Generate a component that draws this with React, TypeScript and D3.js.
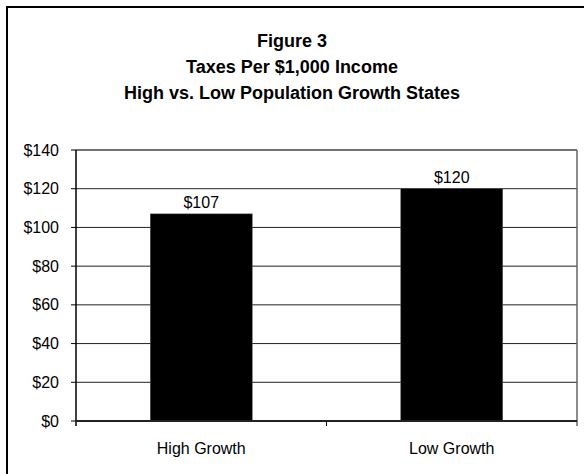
import React from "react";
import * as d3 from "d3";

const categories = ["High Growth", "Low Growth"];
const values = [107, 120];
const yTicks = [0, 20, 40, 60, 80, 100, 120, 140];
const titleLines = ["Figure 3", "Taxes Per $1,000 Income", "High vs. Low Population Growth States"];

const W = 584;
const H = 474;
const plot = { left: 76, right: 577, top: 150, bottom: 421 };
const FONT = "'Liberation Sans', Arial, sans-serif";

export default function App() {
  const x = d3.scaleBand<string>().domain(categories).range([plot.left, plot.right]).padding(0);
  const y = d3.scaleLinear().domain([0, 140]).range([plot.bottom, plot.top]);
  const barW = x.bandwidth() * 0.407;
  const fmt = (v: number) => "$" + d3.format("d")(v);

  return (
    <svg width={W} height={H} style={{ position: "absolute", left: 0, top: 0, background: "#fff" }}>
      <rect x={7} y={7} width={600} height={500} fill="#fff" stroke="#000" strokeWidth={2} />
      {titleLines.map((t, i) => (
        <text key={t} x={292} y={46.5 + i * 26} textAnchor="middle" fontFamily={FONT} fontWeight="bold" fontSize={18} fill="#000">
          {t}
        </text>
      ))}
      {/* gridlines */}
      {yTicks.slice(1, -1).map((t) => (
        <line key={t} x1={plot.left} x2={plot.right} y1={y(t)} y2={y(t)} stroke="#222" strokeWidth={1} />
      ))}
      {/* frame */}
      <line x1={plot.left} x2={plot.right} y1={plot.top} y2={plot.top} stroke="#444" strokeWidth={1.5} />
      <line x1={plot.right} x2={plot.right} y1={plot.top} y2={plot.bottom + 5} stroke="#666" strokeWidth={1.5} />
      {/* bars */}
      {categories.map((c, i) => {
        const cx = (x(c) as number) + x.bandwidth() / 2;
        return (
          <g key={c}>
            <rect x={cx - barW / 2} y={y(values[i])} width={barW} height={y(0) - y(values[i])} fill="#000" stroke="#555" strokeWidth={0.5} />
            <text x={cx} y={y(values[i]) - 6} textAnchor="middle" fontFamily={FONT} fontSize={16} fill="#000">
              {fmt(values[i])}
            </text>
            <text x={cx} y={454} textAnchor="middle" fontFamily={FONT} fontSize={16} fill="#000">
              {c}
            </text>
          </g>
        );
      })}
      {/* y axis */}
      <line x1={plot.left} x2={plot.left} y1={plot.top} y2={plot.bottom + 5} stroke="#000" strokeWidth={1.5} />
      {yTicks.map((t) => (
        <g key={t}>
          <line x1={plot.left - 5} x2={plot.left} y1={y(t)} y2={y(t)} stroke="#000" strokeWidth={1} />
          <text x={59} y={y(t)} dy="0.35em" textAnchor="end" fontFamily={FONT} fontSize={16} fill="#000">
            {fmt(t)}
          </text>
        </g>
      ))}
      {/* x axis */}
      <line x1={plot.left} x2={plot.right} y1={plot.bottom} y2={plot.bottom} stroke="#222" strokeWidth={2} />
      {categories.slice(1).map((c) => (
        <line key={c} x1={x(c) as number} x2={x(c) as number} y1={plot.bottom} y2={plot.bottom + 5} stroke="#000" strokeWidth={1} />
      ))}
    </svg>
  );
}
